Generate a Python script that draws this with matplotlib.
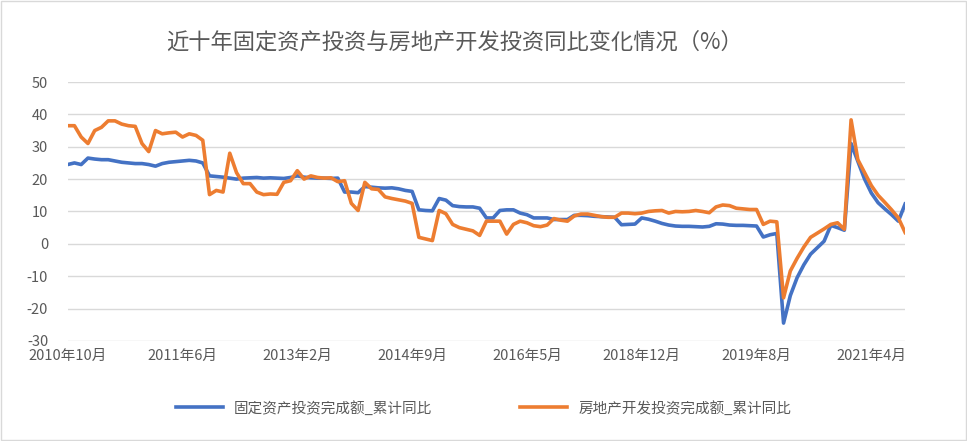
import matplotlib
matplotlib.use("Agg")
import matplotlib.pyplot as plt
from matplotlib import font_manager as fm
from matplotlib.patches import Rectangle

cjk = [f.name for f in fm.fontManager.ttflist if "CJK" in f.name]
pref = [n for n in cjk if n.endswith("SC")] or cjk
plt.rcParams["font.family"] = (pref[:1] if pref else []) + ["Noto Sans CJK SC", "DejaVu Sans"]
plt.rcParams["axes.unicode_minus"] = False

title = "近十年固定资产投资与房地产开发投资同比变化情况（%）"
series_names = ["固定资产投资完成额_累计同比", "房地产开发投资完成额_累计同比"]
tick_labels = ["2010年10月", "2011年6月", "2013年2月", "2014年9月", "2016年5月",
               "2018年12月", "2019年8月", "2021年4月"]
tick_step = 17

fixed_asset = [24.5, 25, 24.5, 26.5, 26.2, 26, 26, 25.6, 25.2, 25, 24.8, 24.8, 24.5,
               24, 24.8, 25.2, 25.4, 25.6, 25.8, 25.6, 25,
               21, 20.8, 20.6, 20.3, 20, 20.3, 20.4, 20.5, 20.3, 20.4, 20.3, 20.2, 20.5, 21,
               20.6, 20.4, 20.3, 20.3, 20.2, 20.3,
               16, 16, 15.8, 17.7, 17.5, 17.3, 17.2, 17.3, 17, 16.5, 16.2,
               10.5, 10.3, 10.2, 14, 13.5, 11.8, 11.5, 11.4, 11.4, 11,
               8, 8, 10.3, 10.5, 10.5, 9.5, 9, 8, 8, 8, 7.5, 7.5, 7.5,
               8.8, 8.8, 8.7, 8.5, 8.4, 8.3, 8.2, 5.9, 6.0, 6.1, 8, 7.6, 7, 6.3, 5.8,
               5.5, 5.4, 5.4, 5.3, 5.2, 5.4, 6.2, 6.1, 5.8, 5.7, 5.7, 5.6, 5.5,
               2.1, 2.8, 3.2, -24.5, -16, -10.5, -6.5, -3.2, -1.2, 0.8, 5.7, 5, 4.2,
               31, 25.5, 20, 15.7, 12.7, 10.8, 9, 7, 12.3]

real_estate = [36.5, 36.5, 33, 31, 35, 36, 38, 38, 37, 36.5, 36.3, 31, 28.5, 35, 34,
               34.3, 34.5, 33, 34, 33.5, 32, 15.2, 16.5, 16, 28, 22, 18.6, 18.6, 16, 15.2,
               15.4, 15.3, 19, 19.5, 22.6, 20, 21, 20.5, 20.3, 20.4, 19.2, 19.5, 12.5, 10.3,
               19, 17, 16.8, 14.5, 14, 13.6, 13.2, 12.5, 2, 1.5, 1, 10.3, 9.3, 6, 5, 4.5,
               4, 2.6, 7, 7, 7, 3, 6, 7, 6.5, 5.6, 5.3, 5.8, 7.8, 7.3, 7, 8.6, 9.2, 9.2,
               8.8, 8.4, 8.2, 8.2, 9.5, 9.5, 9.3, 9.5, 10, 10.2, 10.3, 9.5, 10, 9.9, 10,
               10.3, 10, 9.6, 11.4, 12, 11.8, 11, 10.8, 10.6, 10.6, 6, 7, 6.8, -16.7, -8.4,
               -4.5, -1, 2, 3.3, 4.6, 6, 6.5, 4.5, 38.3, 26, 22, 18, 15, 12.8, 10.5, 8, 3.5]

n = max(len(fixed_asset), len(real_estate))
fig = plt.figure(figsize=(9.67, 4.41), dpi=100)
fig.patches.append(Rectangle((0.001, 0.002), 0.998, 0.996, transform=fig.transFigure,
                             fill=False, edgecolor="#d9d9d9", linewidth=1))
ax = fig.add_axes([0.070, 0.227, 0.866, 0.587])
ax.plot(range(len(fixed_asset)), fixed_asset, color="#4472c4", lw=2.6,
        label=series_names[0], solid_joinstyle="round")
ax.plot(range(len(real_estate)), real_estate, color="#ed7d31", lw=2.6,
        label=series_names[1], solid_joinstyle="round")
ax.set_xlim(0, n - 1)
ax.set_ylim(-30, 50)
ax.set_yticks(range(-30, 51, 10))
ax.set_xticks([i * tick_step for i in range(len(tick_labels))])
ax.set_xticklabels(tick_labels)
ax.grid(axis="y", color="#d9d9d9", lw=1)
ax.set_axisbelow(True)
for s in ax.spines.values():
    s.set_visible(False)
ax.tick_params(length=0, labelsize=10.5, colors="#595959", pad=6)
ax.tick_params(axis="y", pad=14)
fig.text(0.47, 0.905, title, ha="center", va="center", fontsize=16, color="#595959")
fig.legend(loc="center", bbox_to_anchor=(0.5, 0.075), ncol=2, frameon=False,
           fontsize=10.5, labelcolor="#595959", handlelength=3.2, columnspacing=6)
fig.savefig("out.png", dpi=100)
